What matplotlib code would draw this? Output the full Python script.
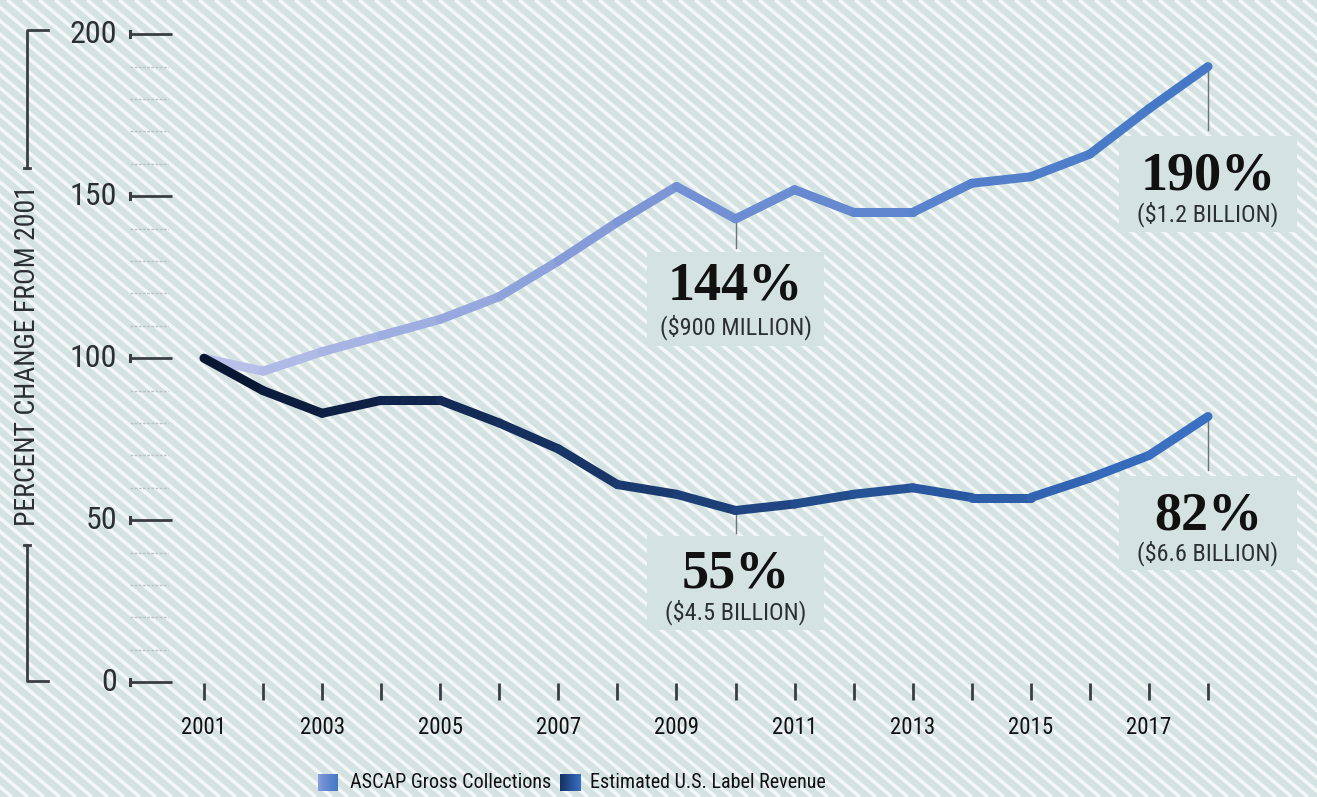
import numpy as np
import matplotlib
matplotlib.use("Agg")
import matplotlib.pyplot as plt
from matplotlib import font_manager
from matplotlib.collections import LineCollection
from matplotlib.colors import LinearSegmentedColormap
from matplotlib.patches import Rectangle

# data (percent of 2001 level)
years = list(range(2001, 2019))
ascap = [100, 96, 102, 107, 112, 119, 130, 142, 153, 143, 152, 145, 145, 154, 156, 163, 177, 190]
label_rev = [100, 90, 83, 87, 87, 80, 72, 61, 58, 53, 55, 58, 60, 57, 57, 63, 70, 82]
series_names = ["ASCAP Gross Collections", "Estimated U.S. Label Revenue"]
y_ticks = [0, 50, 100, 150, 200]
x_ticklabels = [2001, 2003, 2005, 2007, 2009, 2011, 2013, 2015, 2017]

# callouts: (year, value, big text, small text)
callouts = [
    (2010, 143, "144%", "($900 MILLION)"),
    (2018, 190, "190%", "($1.2 BILLION)"),
    (2010, 53, "55%", "($4.5 BILLION)"),
    (2018, 82, "82%", "($6.6 BILLION)"),
]

# fonts
names = {f.name for f in font_manager.fontManager.ttflist}
sans = "DejaVu Sans"
stretch = "normal"
for cand in ["Roboto Condensed", "Liberation Sans Narrow", "DejaVu Sans Condensed"]:
    if cand in names:
        sans = cand
        break
else:
    stretch = "condensed"
serif = "Liberation Serif" if "Liberation Serif" in names else "DejaVu Serif"

BG = "#d4e2e1"
INK = "#2b2f33"

W, H = 1317, 797
fig = plt.figure(figsize=(W / 100, H / 100), dpi=100, facecolor=BG)

# background stripes in pixel space
bg = fig.add_axes([0, 0, 1, 1], zorder=0)
bg.set_xlim(0, W)
bg.set_ylim(H, 0)
bg.axis("off")
bg.set_facecolor(BG)
slope = 0.84
for c in np.arange(-H / slope - 20, W + 20, 16):
    bg.plot([c, c + H / slope], [0, H], color="#f3f7f7", lw=2.6, solid_capstyle="butt")

# main axes: pixel -> data mapping
X0, XS = 204, 59.06      # pixel of 2001, px per year
Y100, YS = 358.2, 3.24   # pixel of 100%, px per percent


def dx(p):
    return 2001 + (p - X0) / XS


def dy(p):
    return 100 + (Y100 - p) / YS


ax = fig.add_axes([0, 0, 1, 1], zorder=1)
ax.set_xlim(dx(0), dx(W))
ax.set_ylim(dy(H), dy(0))
ax.axis("off")
ax.patch.set_alpha(0)

# gradient lines
cm_a = LinearSegmentedColormap.from_list("a", ["#b8c0e9", "#97a8de", "#7390d4", "#5a83cd", "#4579c7"])
cm_l = LinearSegmentedColormap.from_list("l", ["#0a1733", "#122a55", "#1c3f78", "#2a58a0", "#3a6fc2"])
for vals, cm, z in [(ascap, cm_a, 3), (label_rev, cm_l, 4)]:
    pts = np.column_stack([years, vals])
    segs = np.stack([pts[:-1], pts[1:]], axis=1)
    cols = cm(np.linspace(0, 1, len(segs)))
    lc = LineCollection(segs, colors=cols, linewidths=6.5, capstyle="round",
                        joinstyle="round", zorder=z)
    ax.add_collection(lc)

# callout boxes, leaders and texts
box_w = 3.0
for yr, v, big, small in callouts:
    if yr == 2010 and v > 100:
        lead_end, box_top, big_y, small_y, box_bot = 248, 252, 287, 327, 346
    elif yr == 2018 and v > 100:
        lead_end, box_top, big_y, small_y, box_bot = 130, 136, 176, 214, 232
    elif yr == 2010:
        lead_end, box_top, big_y, small_y, box_bot = 533, 536, 574, 612, 630
    else:
        lead_end, box_top, big_y, small_y, box_bot = 470, 476, 516, 553, 570
    ax.plot([yr, yr], [v, dy(lead_end)], color="#6d7377", lw=1.0, zorder=2)
    ax.add_patch(Rectangle((yr - box_w / 2, dy(box_bot)), box_w, dy(box_top) - dy(box_bot),
                           facecolor=BG, edgecolor="none", zorder=1.5))
    ax.text(yr, dy(big_y), big, family=serif, fontweight="bold", fontsize=39,
            ha="center", va="center", color="#111111", zorder=5)
    ax.text(yr, dy(small_y), small, family=sans, fontstretch=stretch, fontsize=17.5,
            ha="center", va="center", color=INK, zorder=5)

# y axis ticks and labels
for t in y_ticks:
    ax.plot([dx(130), dx(172)], [t, t], color="#3a3e42", lw=2.0, solid_capstyle="butt", zorder=2)
    ax.plot([dx(130), dx(130)], [t - 1.0, t + 1.0], color="#3a3e42", lw=2.2, zorder=2)
    ax.text(dx(117), t, str(t), family=sans, fontstretch=stretch, fontsize=23,
            ha="right", va="center", color=INK, zorder=5)
for t in range(10, 200, 10):
    if t % 50:
        ax.plot([dx(130), dx(168)], [t, t], color="#bcc3c4", lw=1.0, ls=(0, (2, 1)), zorder=2)

# y axis bracket and title
bx = dx(27)
ax.plot([dx(48), bx, bx], [dy(30), dy(30), dy(168)], color="#3a3e42", lw=2.0, zorder=2)
ax.plot([dx(24), dx(30)], [dy(168), dy(168)], color="#3a3e42", lw=2.0, zorder=2)
ax.plot([bx, bx, dx(48)], [dy(545), dy(681), dy(681)], color="#3a3e42", lw=2.0, zorder=2)
ax.plot([dx(24), dx(30)], [dy(545), dy(545)], color="#3a3e42", lw=2.0, zorder=2)
ax.text(dx(28), dy(356), "PERCENT CHANGE FROM 2001", rotation=90, family=sans,
        fontstretch=stretch, fontsize=20, ha="center", va="center", color=INK, zorder=5)

# x axis ticks and labels
for yr in years:
    ax.plot([yr, yr], [dy(683), dy(700)], color="#3a3e42", lw=2.0, solid_capstyle="butt", zorder=2)
for yr in x_ticklabels:
    ax.text(yr, dy(727), str(yr), family=sans, fontstretch=stretch, fontsize=16.5,
            ha="center", va="center", color="#111111", zorder=5)

# legend (gradient swatches)
ly = dy(783)
grad = np.linspace(0.35, 1.0, 64)[None, :]
for (x1, x2, tx), name, cm in zip([(318, 338, 350), (560, 580, 590)], series_names, [cm_a, cm_l]):
    ax.imshow(grad, cmap=cm, vmin=0, vmax=1, aspect="auto", interpolation="bilinear",
              extent=(dx(x1), dx(x2), dy(791), dy(775)), zorder=5)
    ax.text(dx(tx), ly, name, family=sans, fontstretch=stretch, fontsize=14.5,
            ha="left", va="center", color="#111111", zorder=5)

ax.set_xlim(dx(0), dx(W))
ax.set_ylim(dy(H), dy(0))
fig.savefig("out.png", dpi=100, facecolor=BG)
